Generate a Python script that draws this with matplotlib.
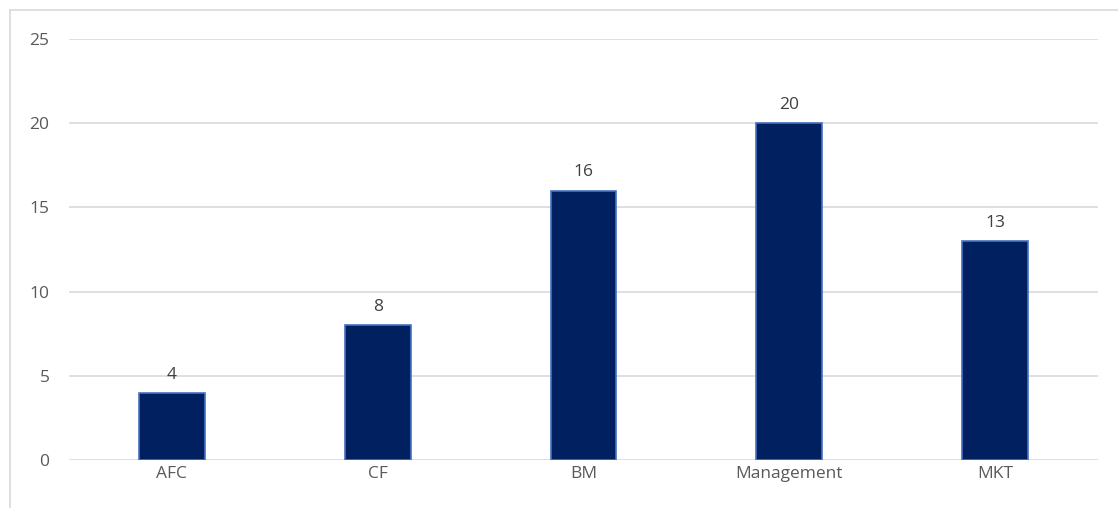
import matplotlib.pyplot as plt
from matplotlib.lines import Line2D

categories = ['AFC', 'CF', 'BM', 'Management', 'MKT']
values = [4, 8, 16, 20, 13]
yticks = [0, 5, 10, 15, 20, 25]

plt.rcParams['font.family'] = ['Open Sans', 'DejaVu Sans']

fig = plt.figure(figsize=(11.18, 5.08), dpi=100)
ax = fig.add_axes([69 / 1118, 1 - 460 / 508, (1098 - 69) / 1118, (460 - 39) / 508])

x = range(len(categories))
bars = ax.bar(x, values, width=0.32, color='#002060', edgecolor='#4472C4',
              linewidth=1.2, zorder=3)
for b, v in zip(bars, values):
    ax.text(b.get_x() + b.get_width() / 2, v + 0.6, str(v), ha='center', va='bottom',
            fontsize=12.5, color='#404040')

ax.set_xlim(-0.5, len(categories) - 0.5)
ax.set_ylim(0, 25)
ax.set_yticks(yticks)
ax.set_xticks(list(x))
ax.set_xticklabels(categories)
ax.grid(axis='y', color='#d9d9d9', linewidth=1.2, zorder=0)
for s in ax.spines.values():
    s.set_visible(False)
ax.tick_params(length=0, labelsize=12.5, colors='#595959')
ax.tick_params(axis='y', pad=14)
ax.tick_params(axis='x', pad=4)

# outer chart frame (cropped at right and bottom)
fig.add_artist(Line2D([10 / 1118, 1], [1 - 10 / 508] * 2, color='#d9d9d9', lw=1.2,
                      transform=fig.transFigure))
fig.add_artist(Line2D([10 / 1118] * 2, [0, 1 - 10 / 508], color='#d9d9d9', lw=1.2,
                      transform=fig.transFigure))

fig.savefig('out.png', dpi=100)
